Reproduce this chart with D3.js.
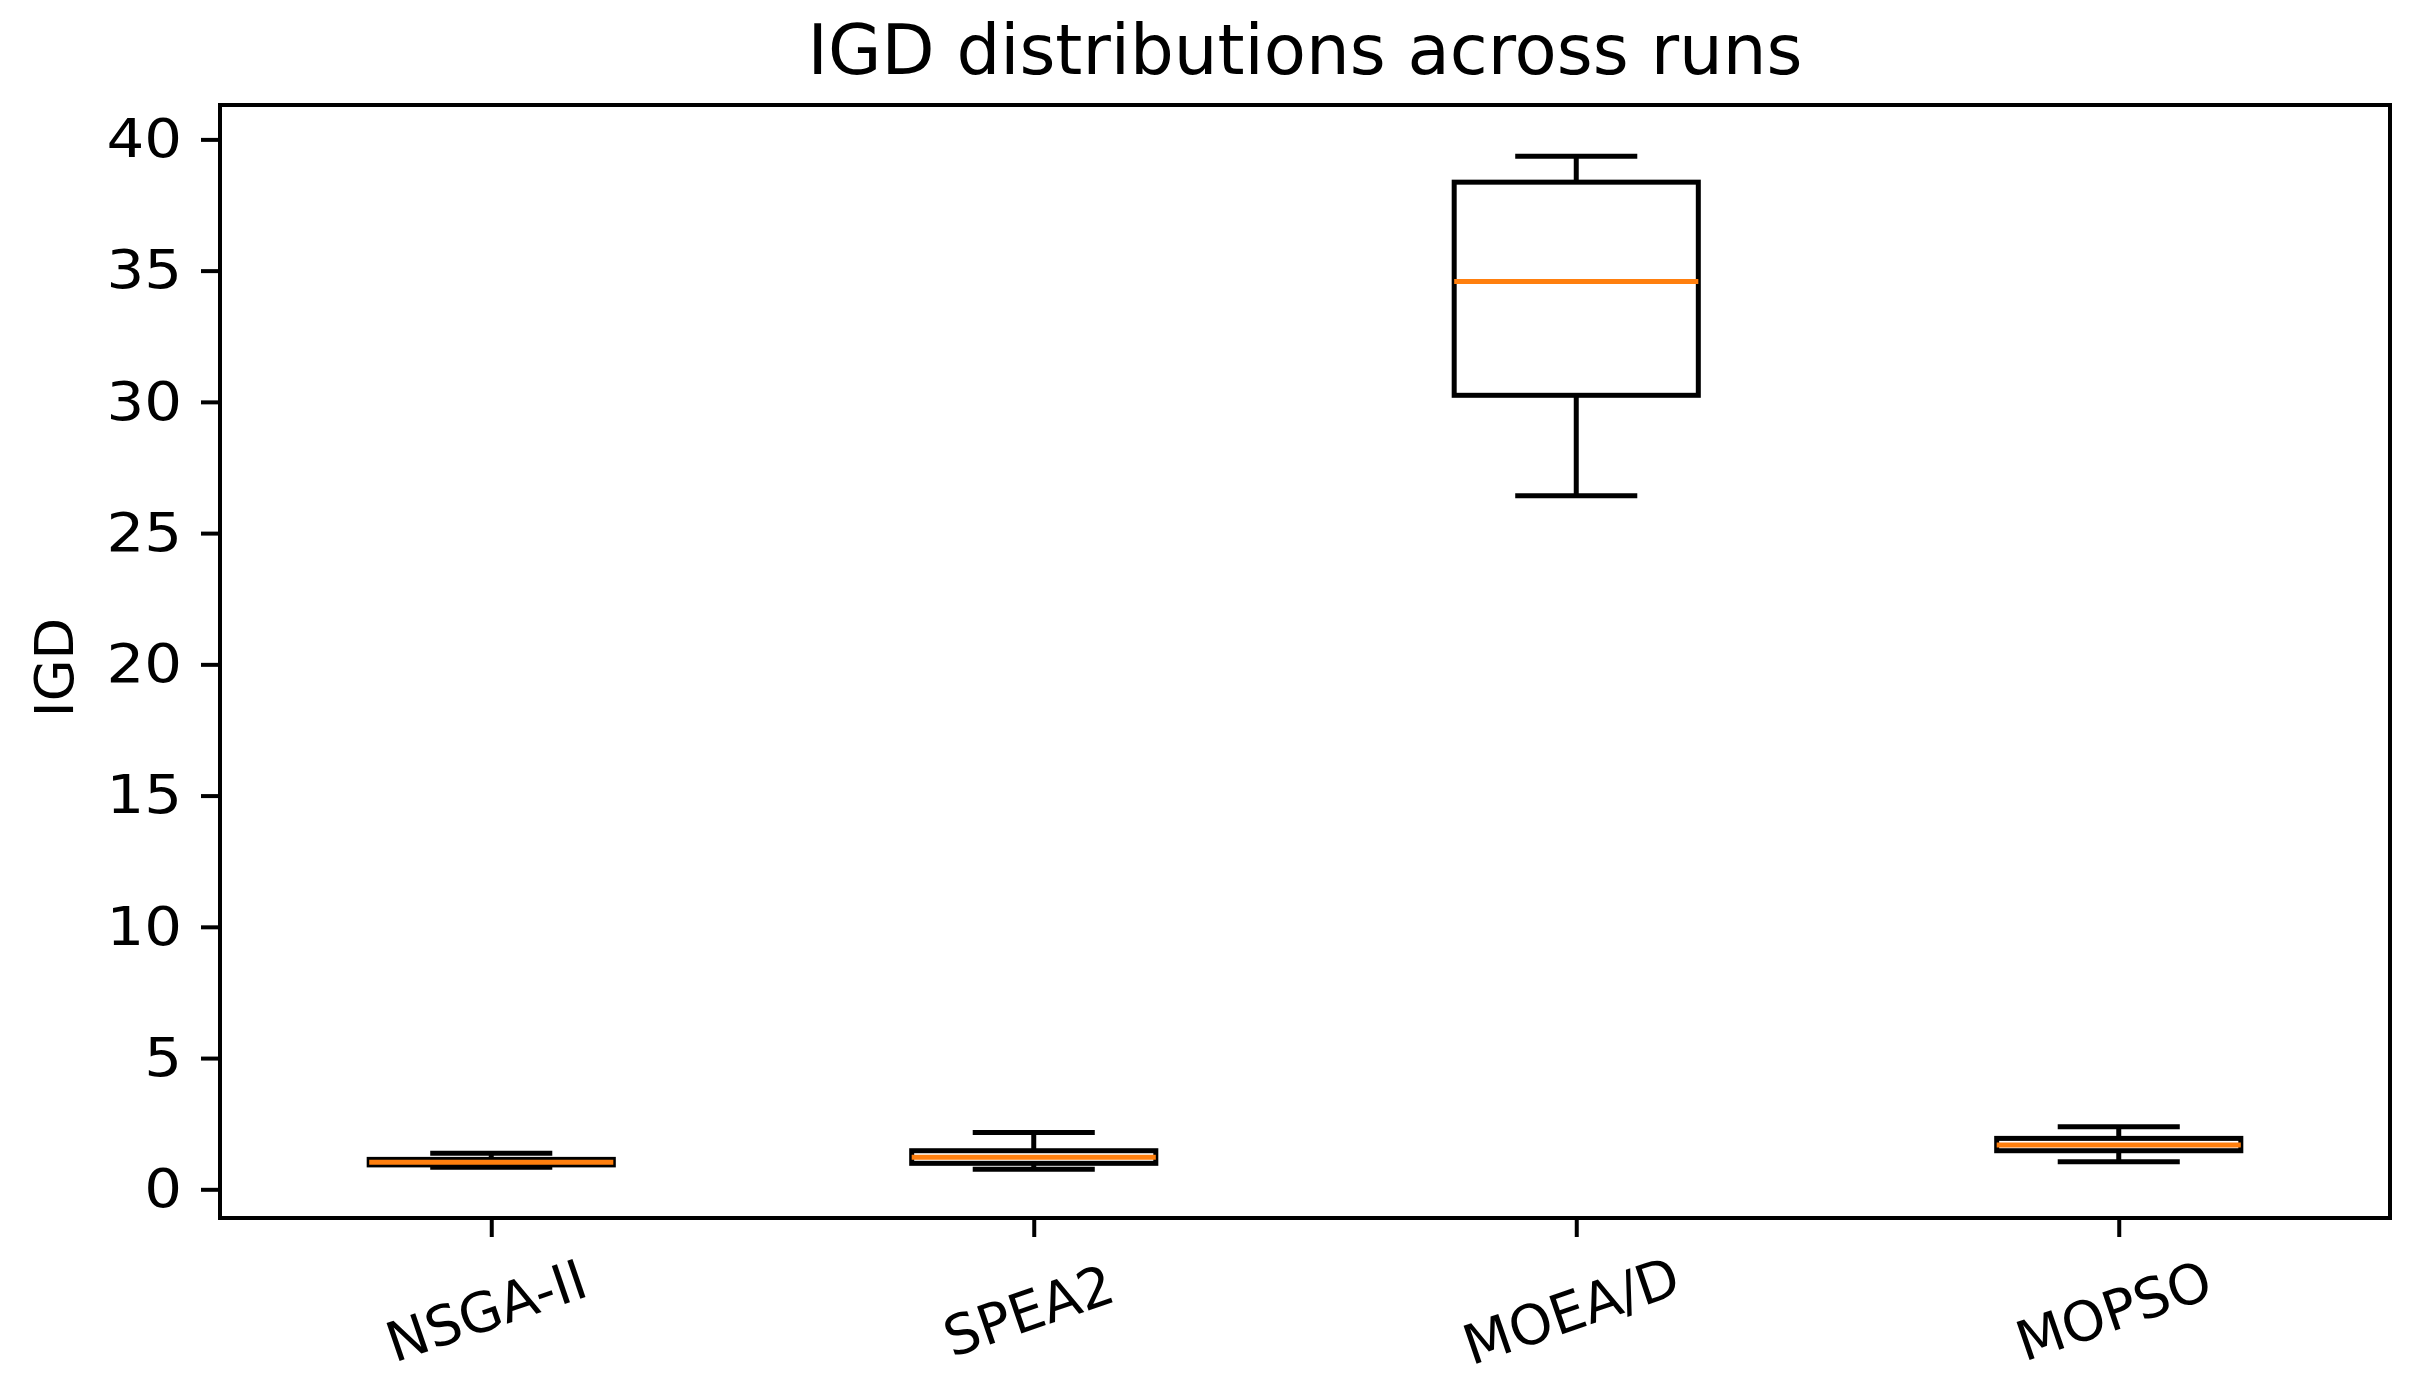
<!DOCTYPE html>
<html>
<head>
<meta charset="utf-8">
<script src="https://cdn.jsdelivr.net/npm/d3@7"></script>
<style>
  html, body { margin: 0; padding: 0; background: #fff; }
  svg { display: block; }
  text { font-family: "DejaVu Sans", sans-serif; fill: #000; }
</style>
</head>
<body>
<svg id="chart" width="2418" height="1379"></svg>
<script>
// ---- data ----
const categories  = ["NSGA-II", "SPEA2", "MOEA/D", "MOPSO"];
const whiskerLow  = [0.84, 0.76, 26.42, 1.05];
const q1          = [0.93, 0.99, 30.25, 1.47];
const median      = [1.03, 1.22, 34.59, 1.69];
const q3          = [1.14, 1.47, 38.37, 1.94];
const whiskerHigh = [1.37, 2.16, 39.36, 2.38];
const yTicks      = [0, 5, 10, 15, 20, 25, 30, 35, 40];
const titleText   = "IGD distributions across runs";
const yLabelText  = "IGD";

// ---- layout ----
const plot = { left: 220, right: 2390, top: 105, bottom: 1218 };
const svg = d3.select("#chart");

const x = d3.scaleLinear().domain([0.5, categories.length + 0.5]).range([plot.left, plot.right]);
const y = d3.scaleLinear().domain([-1.093, 41.31]).range([plot.bottom, plot.top]);

const boxW = x(1 + 0.45) - x(1);
const capW = boxW / 2;
const lw = 5;

const data = categories.map((c, i) => ({
  c, pos: i + 1, lo: whiskerLow[i], q1: q1[i], med: median[i], q3: q3[i], hi: whiskerHigh[i]
}));

// ---- boxes ----
const g = svg.append("g");
const bx = g.selectAll("g.box").data(data).enter().append("g").attr("class", "box");

bx.append("rect")
  .attr("x", d => x(d.pos) - boxW / 2)
  .attr("width", boxW)
  .attr("y", d => y(d.q3))
  .attr("height", d => y(d.q1) - y(d.q3))
  .attr("fill", "none").attr("stroke", "#000").attr("stroke-width", lw);

bx.append("line")
  .attr("x1", d => x(d.pos)).attr("x2", d => x(d.pos))
  .attr("y1", d => y(d.q1)).attr("y2", d => y(d.lo))
  .attr("stroke", "#000").attr("stroke-width", lw);
bx.append("line")
  .attr("x1", d => x(d.pos)).attr("x2", d => x(d.pos))
  .attr("y1", d => y(d.q3)).attr("y2", d => y(d.hi))
  .attr("stroke", "#000").attr("stroke-width", lw);
bx.append("line")
  .attr("x1", d => x(d.pos) - capW / 2).attr("x2", d => x(d.pos) + capW / 2)
  .attr("y1", d => y(d.lo)).attr("y2", d => y(d.lo))
  .attr("stroke", "#000").attr("stroke-width", lw);
bx.append("line")
  .attr("x1", d => x(d.pos) - capW / 2).attr("x2", d => x(d.pos) + capW / 2)
  .attr("y1", d => y(d.hi)).attr("y2", d => y(d.hi))
  .attr("stroke", "#000").attr("stroke-width", lw);
bx.append("line")
  .attr("x1", d => x(d.pos) - boxW / 2).attr("x2", d => x(d.pos) + boxW / 2)
  .attr("y1", d => y(d.med)).attr("y2", d => y(d.med))
  .attr("stroke", "#ff7f0e").attr("stroke-width", lw);

// ---- axes ----
const tickLen = 19, tickW = 4, fontTick = 54, sx = 1.1;

const yAxis = d3.axisLeft(y).tickValues(yTicks).tickSize(tickLen).tickPadding(19).tickFormat(d3.format("d"));
const ya = svg.append("g").attr("transform", `translate(${plot.left},0)`).call(yAxis);
ya.select(".domain").remove();
ya.selectAll(".tick line").attr("stroke", "#000").attr("stroke-width", tickW);
ya.selectAll(".tick text")
  .attr("font-size", fontTick).attr("font-family", "DejaVu Sans").attr("fill", "#000")
  .attr("x", -(tickLen + 19) / sx)
  .attr("transform", `scale(${sx},1)`);

const xAxis = d3.axisBottom(x).tickValues(data.map(d => d.pos)).tickSize(tickLen).tickFormat(() => "");
const xa = svg.append("g").attr("transform", `translate(0,${plot.bottom})`).call(xAxis);
xa.select(".domain").remove();
xa.selectAll(".tick line").attr("stroke", "#000").attr("stroke-width", tickW);

// rotated category labels
svg.append("g").selectAll("text").data(data).enter().append("text")
  .attr("transform", d => `translate(${x(d.pos) - 5},${plot.bottom + 93}) rotate(-19)`)
  .attr("text-anchor", "middle")
  .attr("dominant-baseline", "central")
  .attr("font-size", 55)
  .text(d => d.c);

// frame
svg.append("rect")
  .attr("x", plot.left).attr("y", plot.top)
  .attr("width", plot.right - plot.left).attr("height", plot.bottom - plot.top)
  .attr("fill", "none").attr("stroke", "#000").attr("stroke-width", 4);

// title
svg.append("text")
  .attr("x", (plot.left + plot.right) / 2)
  .attr("y", 74)
  .attr("text-anchor", "middle")
  .attr("font-size", 69)
  .text(titleText);

// y label
svg.append("text")
  .attr("transform", `translate(73,${(plot.top + plot.bottom) / 2 + 6}) rotate(-90)`)
  .attr("text-anchor", "middle")
  .attr("font-size", 54)
  .text(yLabelText);
</script>
</body>
</html>
